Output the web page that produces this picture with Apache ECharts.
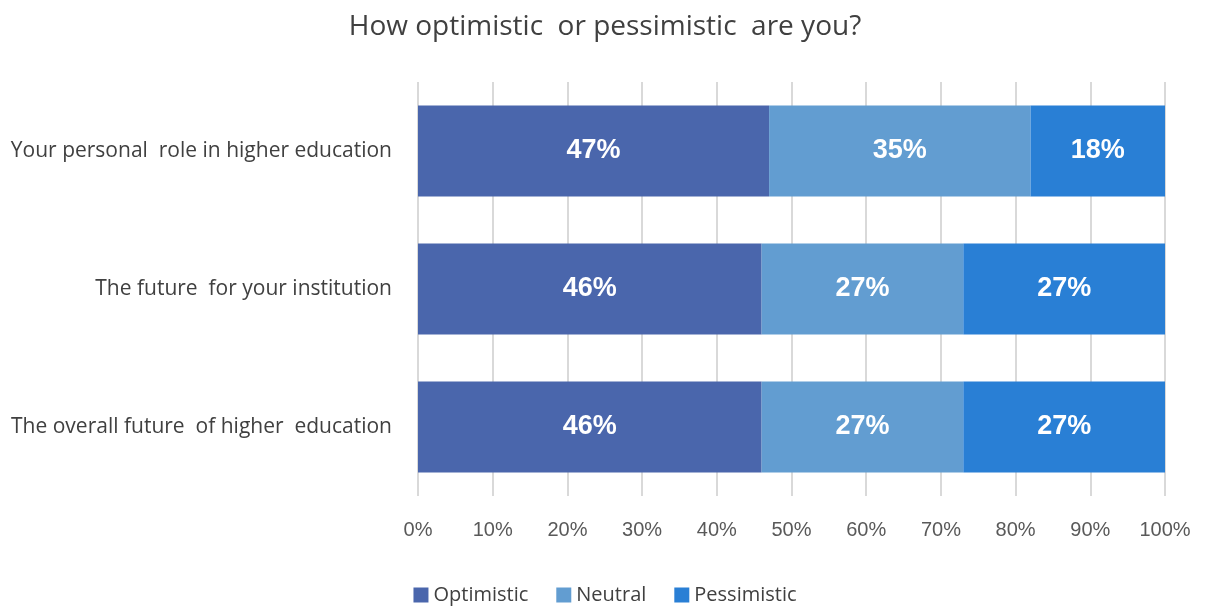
<!DOCTYPE html>
<html>
<head>
<meta charset="utf-8">
<script src="https://cdn.jsdelivr.net/npm/echarts@6/dist/echarts.min.js"></script>
<style>
  html, body { margin: 0; padding: 0; background: #fff; }
  #chart { width: 1210px; height: 606px; }
</style>
</head>
<body>
<div id="chart"></div>
<script>
// categories top to bottom
const categories = [
  "Your personal  role in higher education",
  "The future  for your institution",
  "The overall future  of higher  education",
];
const optimistic = [47, 46, 46];
const neutral = [35, 27, 27];
const pessimistic = [18, 27, 27];
const xTicks = [0, 10, 20, 30, 40, 50, 60, 70, 80, 90, 100];

const colors = ["#4a66ac", "#629dd1", "#297fd5"];

const labelStyle = {
  show: true,
  position: "inside",
  color: "#fff",
  fontSize: 27,
  fontWeight: "bold",
  fontFamily: "Liberation Sans, Arial, sans-serif",
  formatter: (p) => p.value + "%",
};

const makeSeries = (name, data, color) => ({
  name: name,
  type: "bar",
  stack: "total",
  barWidth: "66%",
  data: data,
  itemStyle: { color: color },
  label: labelStyle,
});

const myChart = echarts.init(document.getElementById("chart"));
myChart.setOption({
  animation: false,
  title: {
    text: "How optimistic  or pessimistic  are you?",
    left: "center",
    top: 8,
    textStyle: {
      color: "#404040",
      fontSize: 28,
      fontWeight: "normal",
      fontFamily: "Open Sans, DejaVu Sans, sans-serif",
    },
  },
  grid: {
    left: 418,
    right: 45,
    top: 82,
    bottom: 110,
  },
  legend: {
    top: 580,
    left: "center",
    itemWidth: 15,
    itemHeight: 15,
    itemGap: 28,
    icon: "rect",
    textStyle: {
      color: "#404040",
      fontSize: 20,
      fontFamily: "Open Sans, DejaVu Sans, sans-serif",
    },
    data: ["Optimistic", "Neutral", "Pessimistic"],
  },
  xAxis: {
    type: "value",
    min: xTicks[0],
    max: xTicks[xTicks.length - 1],
    interval: 10,
    axisLine: { show: false },
    axisTick: { show: false },
    splitLine: { show: true, lineStyle: { color: "#d9d9d9", width: 2 } },
    axisLabel: {
      color: "#595959",
      fontSize: 20,
      margin: 24,
      fontFamily: "Liberation Sans, Arial, sans-serif",
      formatter: (v) => v + "%",
    },
  },
  yAxis: {
    type: "category",
    inverse: true,
    data: categories,
    axisLine: { show: false },
    axisTick: { show: false },
    axisLabel: {
      color: "#404040",
      fontSize: 21,
      margin: 26,
      fontFamily: "Open Sans, DejaVu Sans, sans-serif",
    },
  },
  series: [
    makeSeries("Optimistic", optimistic, colors[0]),
    makeSeries("Neutral", neutral, colors[1]),
    makeSeries("Pessimistic", pessimistic, colors[2]),
  ],
});
</script>
</body>
</html>
